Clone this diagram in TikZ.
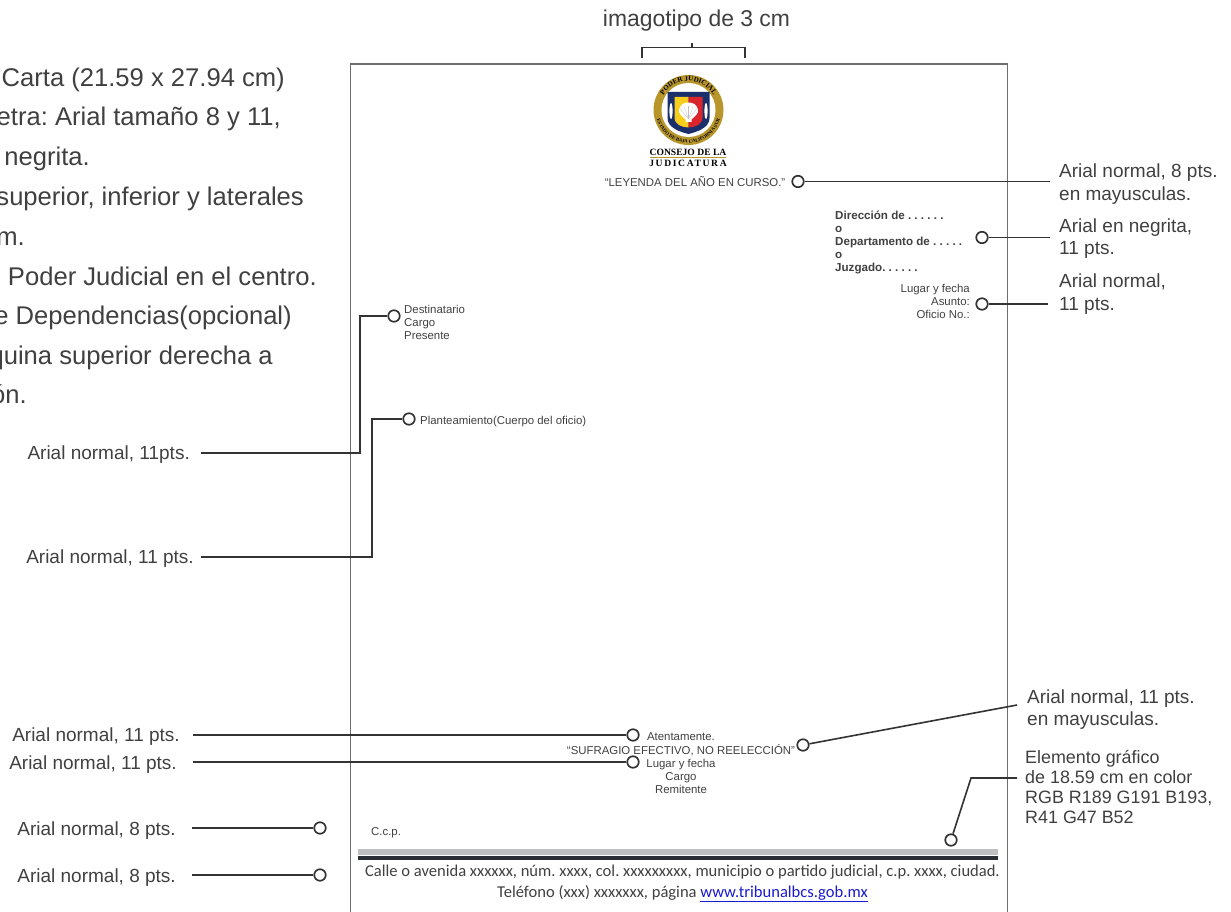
\documentclass[tikz,border=0pt]{standalone}
\usepackage{fontspec}
\setmainfont{Liberation Sans}
\newfontfamily\footfont{Carlito}
\newfontfamily\crestfont{Liberation Serif}
\usepackage{xcolor}
\usetikzlibrary{decorations.text}
\definecolor{inktext}{HTML}{404040}
\definecolor{inkline}{HTML}{333333}
\definecolor{framegray}{HTML}{6E6E6E}
\definecolor{bargray}{RGB}{189,191,193}
\definecolor{bardark}{RGB}{41,47,52}
\definecolor{crestgold}{HTML}{B8962B}
\definecolor{crestnavy}{HTML}{1B2F6B}
\definecolor{crestyellow}{HTML}{F7CE1E}
\definecolor{crestred}{HTML}{D9252B}
\definecolor{linkblue}{HTML}{1A1AD0}
\frenchspacing
\tikzset{
    dotmark/.style={circle, draw=inkline, line width=1.7pt, inner sep=0pt, minimum size=11.5pt},
    guide/.style={draw=inkline, line width=1.6pt, line join=miter},
    notebig/.style={text=inktext, inner sep=0pt, font=\fontsize{25.6}{30}\selectfont},
    notemid/.style={text=inktext, inner sep=0pt, align=left, font=\fontsize{19}{22.2}\selectfont},
    noteside/.style={text=inktext, inner sep=0pt, align=left, font=\fontsize{17.9}{20.2}\selectfont},
    lettertext/.style={text=inktext, inner sep=0pt, font=\fontsize{11.4}{13.2}\selectfont},
}
\begin{document}
\begin{tikzpicture}[x=1pt, y=-1pt]
    \useasboundingbox (0,0) rectangle (1231,912);
    \clip (0,0) rectangle (1231,912);

    % sheet
    \draw[framegray, line width=1.8pt] (350.5,912) -- (350.5,64) -- (1007.5,64) -- (1007.5,912);
    \fill[bargray] (358,849) rectangle (998,854.5);
    \fill[bardark] (358,856) rectangle (998,859.5);

    % text on the left, cut by the page edge
    \foreach \y/\xend/\linea [count=\i] in {
        87/285/{Carta (21.59 x 27.94 cm)},
        126/281/{etra: Arial tamaño 8 y 11,},
        166/90/{negrita.},
        205.5/304/{superior, inferior y laterales},
        245/25/{m.},
        285/317/{Poder Judicial en el centro.},
        324/292/{e Dependencias(opcional)},
        364/273/{quina superior derecha a},
        403/27/{ón.}}
        \node[notebig, anchor=base east] (intro\i) at (\xend,\y) {\linea};

    % logo width
    \node[text=inktext, inner sep=0pt, font=\fontsize{22.9}{26}\selectfont] (logowidth) at (696.5,21) {imagotipo de 3 cm};
    \draw[guide] (642,58) -- (642,47.5) -- (745,47.5) -- (745,58);
    \draw[guide] (692,47.5) -- (692,43);

    % crest
    \begin{scope}[shift={(688.5,110)}, x=1pt, y=1pt]
        \fill[crestgold] (0,0) circle (35);
        \fill[white] (0,0) circle (27);
        \path[decorate, decoration={text along path, text align=center,
            text={|\crestfont\bfseries\fontsize{7}{8}\selectfont\color{black}|PODER JUDICIAL}}]
            (165:29) arc (165:15:29);
        \path[decorate, decoration={text along path, text align=center,
            text={|\crestfont\bfseries\fontsize{4.8}{6}\selectfont\color{black}|ESTADO DE BAJA CALIFORNIA SUR}}]
            (185:33) arc (185:355:33);
        \fill[crestnavy] (-21,18) -- (21,18) -- (21,-8) .. controls (21,-18) and (8,-22) .. (0,-24)
            .. controls (-8,-22) and (-21,-18) .. (-21,-8) -- cycle;
        \fill[crestyellow] (-14,13) -- (0,13) -- (0,-17.5) .. controls (-7,-17) and (-14,-15) .. (-14,-7) -- cycle;
        \fill[crestred] (14,13) -- (0,13) -- (0,-17.5) .. controls (7,-17) and (14,-15) .. (14,-7) -- cycle;
        \fill[white] (-9.5,-2) .. controls (-9.5,6) and (-4,7.5) .. (0,7.5) .. controls (4,7.5) and (9.5,6) .. (9.5,-2)
            .. controls (8,-6) and (4,-8) .. (3,-9.5) -- (3,-12) -- (-3,-12) -- (-3,-9.5)
            .. controls (-4,-8) and (-8,-6) .. (-9.5,-2) -- cycle;
        \foreach \angle in {50,70,90,110,130}
            \draw[gray!50, line width=0.3pt] (0,-9) -- ++(\angle:13);
        \fill[white] (-17.5,-1) ellipse (1.6 and 8);
        \fill[white] (17.5,-1) ellipse (1.6 and 8);
    \end{scope}
    \node[inner sep=0pt, font=\crestfont\bfseries\fontsize{9.6}{12}\selectfont] (crestone) at (688,152) {CONSEJO DE LA};
    \fill[crestgold] (650,156.6) rectangle (726,157.6);
    \node[inner sep=0pt, font=\crestfont\bfseries\fontsize{9.6}{12}\selectfont\addfontfeature{LetterSpace=17}] (cresttwo) at (688,163) {JUDICATURA};

    % letter contents
    \node[lettertext, anchor=east] (legend) at (785.5,182) {“LEYENDA DEL AÑO EN CURSO.”};
    \node[lettertext, anchor=north west, align=left, font=\bfseries\fontsize{11.6}{12.9}\selectfont] (office) at (835,211) {Dirección de . . . . . .\\o\\Departamento de . . . . .\\o\\Juzgado. . . . . .};
    \node[lettertext, anchor=north east, align=right] (place) at (970,284) {Lugar y fecha\\Asunto:\\Oficio No.:};
    \node[lettertext, anchor=north west, align=left] (addressee) at (404,305) {Destinatario\\Cargo\\Presente};
    \node[lettertext, anchor=west] (body) at (420,421.5) {Planteamiento(Cuerpo del oficio)};
    \node[lettertext, align=center] (closing) at (681,763.5) {Atentamente.\\“SUFRAGIO EFECTIVO, NO REELECCIÓN”\\Lugar y fecha\\Cargo\\Remitente};
    \node[lettertext, anchor=west] (copies) at (371,832.5) {C.c.p.};
    \node[inktext, inner sep=0pt, align=center, font=\footfont\fontsize{16.55}{20.5}\selectfont] (address) at (682.5,883.5) {Calle o avenida xxxxxx, núm. xxxx, col. xxxxxxxxx, municipio o partido judicial, c.p. xxxx, ciudad.\\Teléfono (xxx) xxxxxxx, página {\color{linkblue}\underline{www.tribunalbcs.gob.mx}}};

    % markers
    \node[dotmark] (dotlegend) at (798,181.5) {};
    \node[dotmark] (dotoffice) at (982,237.5) {};
    \node[dotmark] (dotplace) at (982,304) {};
    \node[dotmark] (dotaddressee) at (394,316) {};
    \node[dotmark] (dotbody) at (409,419) {};
    \node[dotmark] (dotclosing) at (633,735) {};
    \node[dotmark] (dotslogan) at (803,745) {};
    \node[dotmark] (dotsender) at (633,762) {};
    \node[dotmark] (dotcopies) at (320,828) {};
    \node[dotmark] (dotaddress) at (320,875) {};
    \node[dotmark] (dotbar) at (951,840) {};

    % notes on the right
    \node[notemid, anchor=north west] (noteleyenda) at (1059,164) {Arial normal, 8 pts.\\en mayusculas.};
    \node[notemid, anchor=north west] (noteoffice) at (1059,218.5) {Arial en negrita,\\11 pts.};
    \node[notemid, anchor=north west] (noteplace) at (1059,274) {Arial normal,\\11 pts.};
    \node[notemid, anchor=north west] (noteslogan) at (1027,689.5) {Arial normal, 11 pts.\\en mayusculas.};
    \node[noteside, anchor=north west] (notebar) at (1025,750) {Elemento gráfico\\de 18.59 cm en color\\RGB R189 G191 B193,\\R41 G47 B52};

    % notes on the left
    \node[notemid, anchor=east] (noteaddressee) at (190,455) {Arial normal, 11pts.};
    \node[notemid, anchor=east] (notebody) at (194,559) {Arial normal, 11 pts.};
    \node[notemid, anchor=east] (noteclosing) at (180,737) {Arial normal, 11 pts.};
    \node[notemid, anchor=east] (notesender) at (177,765) {Arial normal, 11 pts.};
    \node[notemid, anchor=east] (notecopies) at (176,831) {Arial normal, 8 pts.};
    \node[notemid, anchor=east] (noteaddress) at (176,878) {Arial normal, 8 pts.};

    % connectors
    \coordinate (endlegend) at (1050,181.5);
    \coordinate (endoffice) at (1050,237.5);
    \coordinate (endplace) at (1048,304);
    \coordinate (bendaddressee) at (360,453);
    \coordinate (endaddressee) at (201,453);
    \coordinate (bendbody) at (372,557);
    \coordinate (endbody) at (201,557);
    \coordinate (endclosing) at (193,735);
    \coordinate (endsender) at (193,762);
    \coordinate (endcopies) at (192,828);
    \coordinate (endaddress) at (192,875);
    \coordinate (endslogan) at (1017,705);
    \coordinate (bendbar) at (971,778);
    \coordinate (endbar) at (1017,778);

    \draw[guide] (dotlegend) -- (endlegend);
    \draw[guide] (dotoffice) -- (endoffice);
    \draw[guide] (dotplace) -- (endplace);
    \draw[guide] (dotaddressee) -| (bendaddressee) -- (endaddressee);
    \draw[guide] (dotbody) -| (bendbody) -- (endbody);
    \draw[guide] (dotclosing) -- (endclosing);
    \draw[guide] (dotsender) -- (endsender);
    \draw[guide] (dotcopies) -- (endcopies);
    \draw[guide] (dotaddress) -- (endaddress);
    \draw[guide] (dotslogan) -- (endslogan);
    \draw[guide] (dotbar) -- (bendbar) -- (endbar);
\end{tikzpicture}
\end{document}
